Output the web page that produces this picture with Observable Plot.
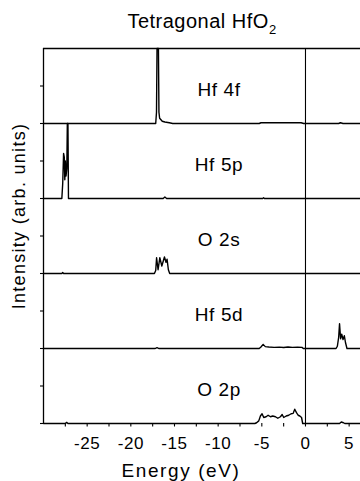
<!DOCTYPE html>
<html>
<head>
<meta charset="utf-8">
<script src="https://cdn.jsdelivr.net/npm/d3@7"></script>
<script src="https://cdn.jsdelivr.net/npm/@observablehq/plot@0.6"></script>
<style>
  html, body { margin: 0; padding: 0; background: #fff; overflow: hidden; }
  #wrap { position: relative; width: 360px; height: 481px; font-family: "Liberation Sans", Arial, sans-serif; color: #000; }
  #wrap svg { position: absolute; left: 0; top: 0; }
  #wrap svg text { letter-spacing: 0.6px; }
  .lbl { position: absolute; white-space: nowrap; text-align: center; }
</style>
</head>
<body>
<div id="wrap">
  <div class="lbl" id="title" style="left:0;width:404px;top:11px;font-size:20px;line-height:20px;letter-spacing:0.5px;">Tetragonal HfO<span style="font-size:13px;position:relative;top:6px;">2</span></div>
  <div class="lbl" id="ylab" style="left:-101px;top:206px;width:240px;height:20px;font-size:18px;line-height:20px;letter-spacing:1.3px;transform:rotate(-90deg);">Intensity (arb. units)</div>
  <div class="lbl" id="xlab" style="left:61px;width:240px;top:461px;font-size:19px;line-height:19px;letter-spacing:1.6px;">Energy (eV)</div>
</div>
<script>
// Panels, top to bottom
const panels = ["Hf 4f", "Hf 5p", "O 2s", "Hf 5d", "O 2p"];

// Energy domain (eV) and panel intensity range (arb. units)
const xDomain = [-30, 6.3];
const yDomain = [0, 1];

// X tick values (every 2.5 eV, labels every 5 eV)
const xTicks = [-27.5, -25, -22.5, -20, -17.5, -15, -12.5, -10, -7.5, -5, -2.5, 0, 2.5, 5];
const xTickLabels = [-25, -20, -15, -10, -5, 0, 5];
// Y ticks per panel
const yTicks = [0, 0.5];

// Partial densities of states: [energy (eV), intensity (arb. units, panel full scale = 1)]
const hf4f = [[-30,0],[-17.15,0],[-17.06,0.15],[-17.0,1],[-16.92,1],[-16.84,1],[-16.78,0.15],[-16.7,0.07],[-16.55,0.05],[-16.4,0.03],[-16.1,0.02],[-15.6,0.01],[-15.2,0],[-5.3,0],[-5.1,0.01],[-0.5,0.01],[-0.2,0],[3.8,0],[4.0,0.01],[4.3,0],[6.3,0]];
const hf5p = [[-30,0],[-27.9,0],[-27.8,0.2],[-27.7,0.6],[-27.62,0.55],[-27.56,0.25],[-27.5,0.5],[-27.42,0.3],[-27.33,0.4],[-27.27,1],[-27.2,1],[-27.14,0],[-16.3,0],[-16.1,0.02],[-15.9,0],[-4.9,0],[-4.8,0.01],[-4.7,0],[6.3,0]];
const o2s = [[-30,0],[-27.9,0],[-27.8,0.012],[-27.7,0],[-17.3,0],[-17.15,0.04],[-17.05,0.21],[-16.88,0.05],[-16.68,0.21],[-16.45,0.1],[-16.15,0.22],[-15.97,0.15],[-15.85,0.19],[-15.7,0.05],[-15.55,0],[6.3,0]];
const hf5d = [[-30,0],[-17.2,0],[-17.0,0.012],[-16.8,0],[-5.3,0],[-5.1,0.02],[-4.85,0.055],[-4.6,0.025],[-4.2,0.02],[-3.6,0.015],[-3.0,0.018],[-2.5,0.013],[-2.0,0.02],[-1.5,0.015],[-0.9,0.018],[-0.4,0.015],[-0.25,0],[3.5,0],[3.65,0.03],[3.8,0.15],[3.9,0.33],[4.02,0.13],[4.15,0.19],[4.3,0.12],[4.45,0.17],[4.58,0.08],[4.75,0],[6.3,0]];
const o2p = [[-30,0],[-27.5,0],[-27.35,0.015],[-27.2,0],[-5.8,0],[-5.6,0.01],[-5.35,0.035],[-5.16,0.1],[-4.97,0.13],[-4.78,0.08],[-4.51,0.09],[-4.28,0.11],[-4.01,0.09],[-3.75,0.1],[-3.44,0.09],[-3.17,0.07],[-2.87,0.09],[-2.67,0.12],[-2.49,0.08],[-2.21,0.1],[-1.92,0.11],[-1.64,0.13],[-1.41,0.135],[-1.23,0.19],[-1.03,0.145],[-0.84,0.11],[-0.65,0.1],[-0.45,0.08],[-0.32,0],[3.9,0],[4.1,0.02],[4.35,0.01],[4.5,0],[6.3,0]];

const series = [hf4f, hf5p, o2s, hf5d, o2p];
const rows = series.flatMap((s, k) => s.map(([e, v]) => ({panel: panels[k], e, v})));

const font = "'Liberation Sans', Arial, sans-serif";

const chart = Plot.plot({
  width: 360,
  height: 481,
  marginLeft: 43,
  marginRight: 0,
  marginTop: 46,
  marginBottom: 56.7,
  style: {fontFamily: font, background: "transparent", color: "#000"},
  x: {domain: xDomain},
  y: {domain: yDomain},
  fy: {domain: panels, axis: null, padding: 0},
  marks: [
    Plot.ruleX([xDomain[0]], {stroke: "#000", strokeWidth: 1.3}),
    Plot.ruleX([0], {stroke: "#000", strokeWidth: 1.1}),
    Plot.ruleY([{panel: panels[0], v: yDomain[1]}], {y: "v", fy: "panel", stroke: "#000", strokeWidth: 1.3}),
    Plot.line(rows, {x: "e", y: "v", fy: "panel", z: "panel", stroke: "#000", strokeWidth: 1.4}),
    Plot.text(panels, {fy: d => d, text: d => d, frameAnchor: "middle", dx: 17, dy: 4, fontSize: 19, fill: "#000"}),
    Plot.axisY({ticks: yTicks, tickSize: 3, tickFormat: () => "", label: null, stroke: "#000", strokeWidth: 1.1}),
    Plot.axisX({ticks: xTicks, tickSize: 3.5, tickPadding: 10, label: null, fontSize: 17,
      tickFormat: d => xTickLabels.includes(d) ? String(d) : "", stroke: "#000", strokeWidth: 1.1})
  ]
});
document.getElementById("wrap").prepend(chart);
</script>
</body>
</html>
